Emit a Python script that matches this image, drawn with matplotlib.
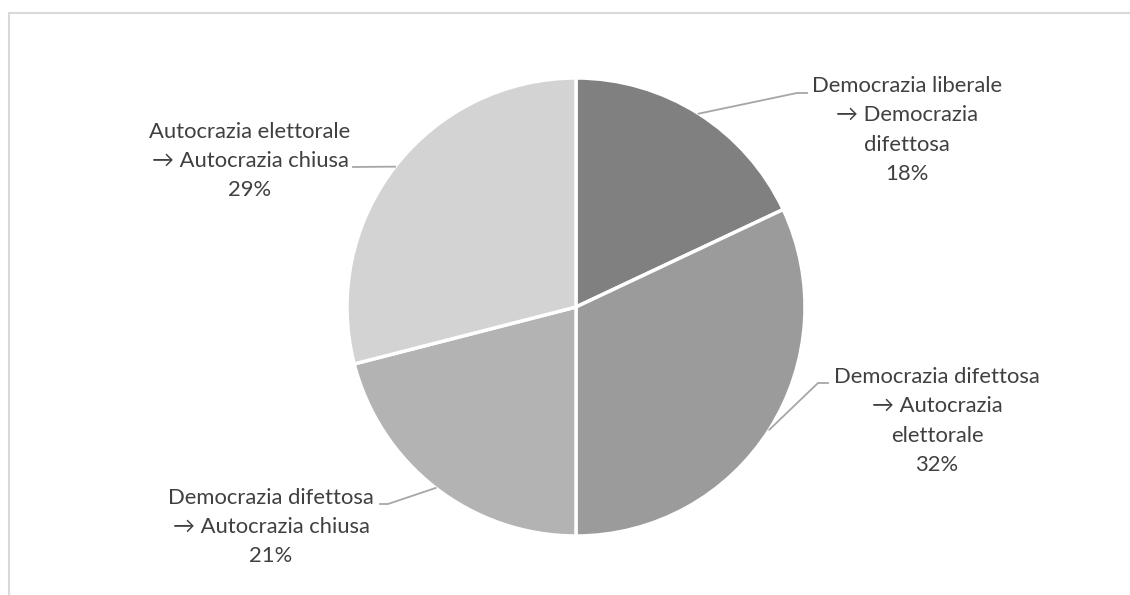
import numpy as np
import matplotlib.pyplot as plt

labels = ["Democrazia liberale\n→ Democrazia\ndifettosa",
          "Democrazia difettosa\n→ Autocrazia\nelettorale",
          "Democrazia difettosa\n→ Autocrazia chiusa",
          "Autocrazia elettorale\n→ Autocrazia chiusa"]
shares = [18, 32, 21, 29]
colors = ["#808080", "#9b9b9b", "#b3b3b3", "#d3d3d3"]

W, H = 1130, 595
cx, cy, R = 576, H - 307, 229

# text centres and leader knees (pixel coords, y from top)
text_pos = [(907, 130), (937, 421), (271, 527), (250, 161)]
knees = [[(797, 93), (807, 93)],
         [(818, 383), (828, 383)],
         [(388, 504), (380, 504)],
         [(353, 167)]]

fig = plt.figure(figsize=(W / 100, H / 100), dpi=100)
ax = fig.add_axes([0, 0, 1, 1])

wedges, _ = ax.pie(shares, colors=colors, startangle=90, counterclock=False,
                   center=(cx, cy), radius=R, frame=True,
                   wedgeprops=dict(edgecolor="white", linewidth=2.5))
ax.set_xlim(0, W)
ax.set_ylim(0, H)
ax.set_aspect("equal")
ax.axis("off")

for w, lab, val, (tx, ty), kn in zip(wedges, labels, shares, text_pos, knees):
    mid = np.deg2rad((w.theta1 + w.theta2) / 2)
    xs = [cx + R * np.cos(mid)] + [k[0] for k in kn]
    ys = [cy + R * np.sin(mid)] + [H - k[1] for k in kn]
    ax.plot(xs, ys, color="#a6a6a6", lw=1.3)
    ax.text(tx, H - ty, f"{lab}\n{val}%", ha="center", va="center",
            fontsize=15.8, family="Lato", color="#404040", linespacing=1.58)

# chart frame (only top and left edges are visible)
ax.plot([8.5, W], [H - 12.5, H - 12.5], color="#d9d9d9", lw=1.5, clip_on=False)
ax.plot([8.5, 8.5], [0, H - 12.5], color="#d9d9d9", lw=1.5, clip_on=False)

fig.savefig("out.png", dpi=100)
